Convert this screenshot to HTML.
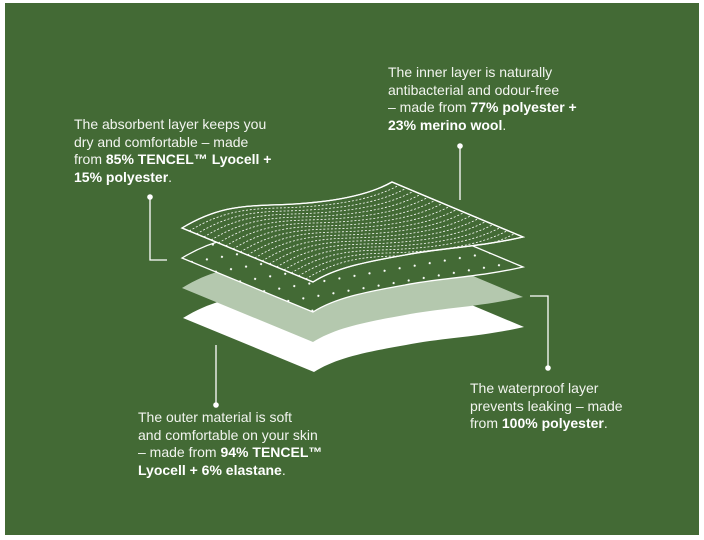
<!DOCTYPE html>
<html><head><meta charset="utf-8"><style>
html,body{margin:0;padding:0;background:#fff;}
body{width:704px;height:540px;position:relative;overflow:hidden;font-family:"Liberation Sans",sans-serif;}
.bg{position:absolute;left:5px;top:3px;width:694px;height:532px;background:#436a35;}
.t{position:absolute;color:#f2f4ef;font-size:14px;line-height:17.5px;white-space:nowrap;}
.t b{font-weight:bold;color:#fff;}
svg{position:absolute;left:0;top:0;}
</style></head><body>
<div class="bg"></div>
<svg width="704" height="540" viewBox="0 0 704 540">
<defs>
<path id="L" d="M182,228 C215,208 240,206 270,205 C310,204 360,200 392,182 L523,237 C480,247 440,248 405,255 C365,262 335,268 313,282 Z"/>
<clipPath id="c1"><use href="#L"/></clipPath>
<clipPath id="c2"><use href="#L" transform="translate(0,30)"/></clipPath>
<pattern id="dots" width="26" height="16" patternUnits="userSpaceOnUse" patternTransform="rotate(22)">
<circle cx="3" cy="3" r="1.1" fill="#fff"/><circle cx="16" cy="11" r="1.1" fill="#fff"/>
</pattern>
</defs>
<use href="#L" transform="translate(1,90)" fill="#fff"/>
<use href="#L" transform="translate(0,60)" fill="#b4c8ae"/>
<g>
<use href="#L" transform="translate(0,30)" fill="#436a35" stroke="#fff" stroke-width="1.3"/>
<rect x="170" y="180" width="370" height="150" fill="url(#dots)" clip-path="url(#c2)"/>
</g>
<use href="#L" fill="#436a35" stroke="#fff" stroke-width="1.3"/>
<g id="dl" clip-path="url(#c1)" fill="none" stroke="#fff" stroke-width="0.8" stroke-dasharray="2,1.8"></g>
<use href="#L" fill="none" stroke="#fff" stroke-width="1.3"/>
<g stroke="#fff" stroke-width="1.3" fill="none">
<polyline points="150,197 150,260 167,260"/>
<line x1="460" y1="146" x2="460" y2="200"/>
<polyline points="530,296 548,296 548,368"/>
<line x1="216" y1="345" x2="216" y2="405"/>
</g>
<g fill="#fff">
<circle cx="150" cy="197" r="2.8"/><circle cx="460" cy="146" r="2.8"/>
<circle cx="548" cy="368" r="2.8"/><circle cx="216" cy="405" r="2.8"/>
</g>
</svg>
<div class="t" style="left:74px;top:116px;">The absorbent layer keeps you<br>dry and comfortable – made<br>from <b>85% TENCEL™ Lyocell +</b><br><b>15% polyester</b>.</div>
<div class="t" style="left:388px;top:64px;">The inner layer is naturally<br>antibacterial and odour-free<br>– made from <b>77% polyester +</b><br><b>23% merino wool</b>.</div>
<div class="t" style="left:470px;top:380px;">The waterproof layer<br>prevents leaking – made<br>from <b>100% polyester</b>.</div>
<div class="t" style="left:138px;top:409px;">The outer material is soft<br>and comfortable on your skin<br>– made from <b>94% TENCEL™</b><br><b>Lyocell + 6% elastane</b>.</div>
<script>
var g=document.getElementById('dl');var s='';
for(var i=1;i<18;i++){var t=i/18;var dx=131*t,dy=54*t;
s+='<path transform="translate('+dx+','+dy+')" d="M182,228 C215,208 240,206 270,205 C310,204 360,200 392,182"/>';}
g.innerHTML=s;
</script>
</body></html>
